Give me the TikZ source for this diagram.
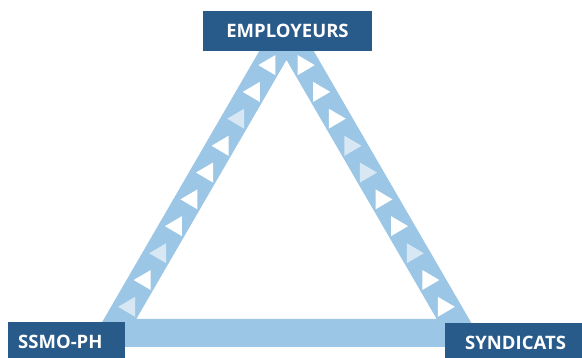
\documentclass[tikz,border=0pt]{standalone}
\usepackage{fontspec}
\setmainfont{Open Sans}
\usetikzlibrary{positioning,calc}
\definecolor{deepblue}{RGB}{40,90,138}
\definecolor{lightband}{RGB}{156,198,229}

\begin{document}
\begin{tikzpicture}[
    x=1pt, y=-1pt,
    band/.style={draw=lightband, line width=28pt, line join=bevel},
    actor/.style={rectangle, fill=deepblue, text=white, minimum height=40pt, inner ysep=0pt, font=\fontsize{18.5}{21}\selectfont\bfseries},
    tri/.style={fill=white, opacity=#1}
]
    \useasboundingbox[fill=white] (0,0) rectangle (582,358);

    % corners of the triangle (centre line of the bands)
    \coordinate (apex) at (286.5,32);
    \coordinate (sw) at (112,333);
    \coordinate (se) at (461,333);

    \draw[band] (apex) -- (sw) -- (se) -- cycle;

    % little arrows along the two sides
    \foreach \t/\o in {0.110/1, 0.199/1, 0.288/0.6, 0.378/1, 0.467/1, 0.556/1, 0.645/1, 0.735/0.6, 0.824/1, 0.913/0.6}
        \path[tri=\o] ($(apex)!\t!(sw)$) ++(-9,0) -- ++(17,-10) -- ++(0,20) -- cycle;
    \foreach \t/\o in {0.110/1, 0.199/1, 0.288/1, 0.378/0.6, 0.467/0.6, 0.556/1, 0.645/1, 0.735/0.6, 0.824/1, 0.913/1}
        \path[tri=\o] ($(apex)!\t!(se)$) ++(9,0) -- ++(-17,-10) -- ++(0,20) -- cycle;

    \node[actor, minimum width=169pt] (emp) at (287.5,31) {EMPLOYEURS};
    \node[actor, anchor=north west, text width=97pt, inner xsep=10pt, align=left] (ssmo) at (8,322) {SSMO-PH};
    \node[actor, anchor=north west, text width=120pt, inner xsep=20pt, align=left] (synd) at (445,323) {SYNDICATS};
\end{tikzpicture}
\end{document}
